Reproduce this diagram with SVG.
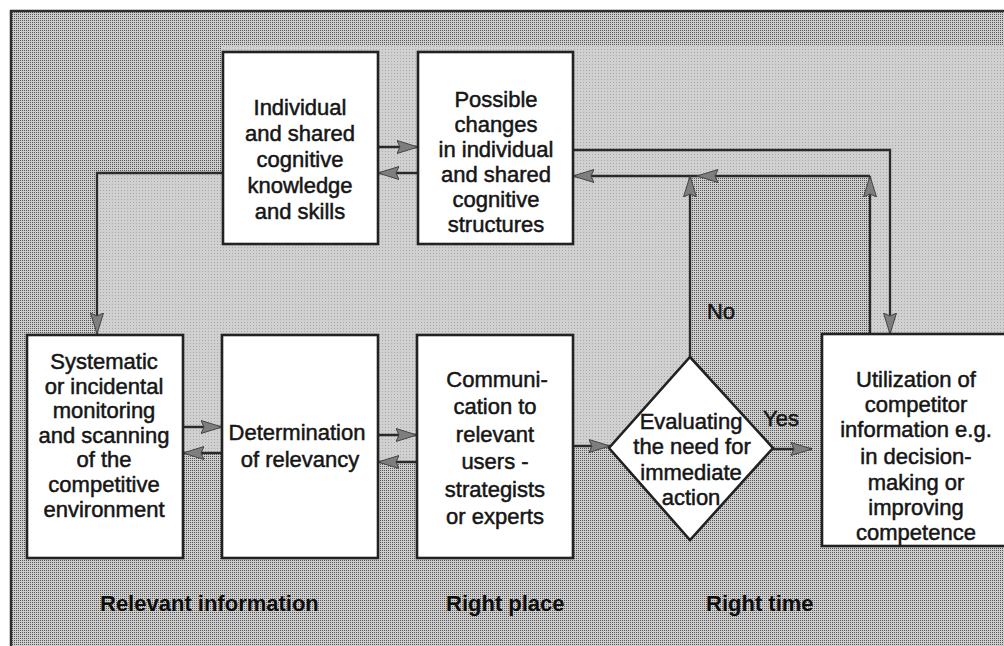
<svg xmlns="http://www.w3.org/2000/svg" width="1004" height="646" viewBox="0 0 1004 646">
  <defs>
    <!-- halftone screen for the outer panel -->
    <pattern id="screen" width="2" height="2" patternUnits="userSpaceOnUse">
      <rect width="2" height="2" fill="#cdcdcd"/>
      <rect width="1" height="1" fill="#555555"/>
    </pattern>
    <!-- finer, lighter screen for the inner band -->
    <pattern id="light" width="3" height="3" patternUnits="userSpaceOnUse">
      <rect width="3" height="3" fill="#d0d0d0"/>
      <rect x="1" y="1" width="1" height="1" fill="#aaaaaa"/>
    </pattern>
    <marker id="arrow" viewBox="0 0 22 14" refX="21" refY="7" markerWidth="22" markerHeight="14" markerUnits="userSpaceOnUse" orient="auto">
      <path d="M0,0.5 L21,7 L0,13.5 L3,7 z" fill="#7e7e7e" stroke="#444444" stroke-width="1"/>
    </marker>
    <style>
      .box { fill: #ffffff; stroke: #222222; stroke-width: 2.6; }
      .wire { fill: none; stroke: #2a2a2a; stroke-width: 2.3; marker-end: url(#arrow); }
      .t { font-family: "Liberation Sans", Arial, sans-serif; font-size: 22px; fill: #161616; stroke: #161616; stroke-width: 0.5; text-anchor: middle; }
      .cap { font-family: "Liberation Sans", Arial, sans-serif; font-size: 22px; font-weight: bold; fill: #0e0e0e; }
    </style>
  </defs>

  <!-- page and frame -->
  <rect width="1004" height="646" fill="#ffffff"/>
  <rect x="11" y="11" width="1010" height="650" fill="url(#screen)"/>
  <path d="M11,660 V11 H1004" fill="none" stroke="#2e2e2e" stroke-width="2.5"/>

  <!-- lighter band enclosed by the feedback loops -->
  <polygon fill="url(#light)" points="222,45 1004,45 1004,334 870,334 870,176 690,176 690,357 611,446 573,446 573,462 378,462 378,453 183,453 183,335 97,335 97,173 222,173"/>

  <!-- connectors -->
  <g id="connectors">
    <path class="wire" d="M378,147 H418"/>
    <path class="wire" d="M418,173 H378"/>
    <path class="wire" d="M573,150 H890 V334"/>
    <path class="wire" d="M870,334 V176"/>
    <path class="wire" d="M870,176 H697"/>
    <path class="wire" d="M697,176 H573"/>
    <path class="wire" d="M690,357 V176"/>
    <path class="wire" d="M222,173 H97 V334"/>
    <path class="wire" d="M183,427 H222"/>
    <path class="wire" d="M222,453 H183"/>
    <path class="wire" d="M378,435 H417"/>
    <path class="wire" d="M417,462 H378"/>
    <path class="wire" d="M573,446 H610"/>
    <path class="wire" d="M773,449 H812"/>
  </g>

  <g id="knowledge">
    <rect class="box" x="223" y="52" width="155" height="192"/>
    <text class="t" x="300" y="115">Individual</text>
    <text class="t" x="300" y="141">and shared</text>
    <text class="t" x="300" y="167">cognitive</text>
    <text class="t" x="300" y="193">knowledge</text>
    <text class="t" x="300" y="219">and skills</text>
  </g>

  <g id="changes">
    <rect class="box" x="418" y="52" width="155" height="192"/>
    <text class="t" x="496" y="107">Possible</text>
    <text class="t" x="496" y="132">changes</text>
    <text class="t" x="496" y="157">in individual</text>
    <text class="t" x="496" y="182">and shared</text>
    <text class="t" x="496" y="207">cognitive</text>
    <text class="t" x="496" y="232">structures</text>
  </g>

  <g id="monitoring">
    <rect class="box" x="27" y="335" width="156" height="223"/>
    <text class="t" x="104" y="369">Systematic</text>
    <text class="t" x="104" y="394">or incidental</text>
    <text class="t" x="104" y="418">monitoring</text>
    <text class="t" x="104" y="443">and scanning</text>
    <text class="t" x="104" y="467">of the</text>
    <text class="t" x="104" y="492">competitive</text>
    <text class="t" x="104" y="517">environment</text>
  </g>

  <g id="relevancy">
    <rect class="box" x="222" y="335" width="156" height="223"/>
    <text class="t" x="297" y="440">Determination</text>
    <text class="t" x="300" y="467">of relevancy</text>
  </g>

  <g id="communication">
    <rect class="box" x="417" y="335" width="156" height="223"/>
    <text class="t" x="497" y="387">Communi-</text>
    <text class="t" x="495" y="414">cation to</text>
    <text class="t" x="495" y="442">relevant</text>
    <text class="t" x="495" y="469">users -</text>
    <text class="t" x="495" y="497">strategists</text>
    <text class="t" x="495" y="524">or experts</text>
  </g>

  <g id="evaluation">
    <polygon class="box" points="690,357 773,448 690,540 609,448"/>
    <text class="t" x="691" y="429">Evaluating</text>
    <text class="t" x="692" y="454">the need for</text>
    <text class="t" x="691" y="480">immediate</text>
    <text class="t" x="691" y="505">action</text>
  </g>

  <g id="utilization">
    <rect class="box" x="822" y="334" width="200" height="212"/>
    <text class="t" x="916" y="387">Utilization of</text>
    <text class="t" x="916" y="412">competitor</text>
    <text class="t" x="916" y="437">information e.g.</text>
    <text class="t" x="916" y="464">in decision-</text>
    <text class="t" x="916" y="490">making or</text>
    <text class="t" x="916" y="515">improving</text>
    <text class="t" x="916" y="540">competence</text>
  </g>

  <!-- decision branch labels -->
  <text class="t" x="721" y="319">No</text>
  <text class="t" x="781" y="426">Yes</text>

  <!-- column captions -->
  <text class="cap" x="100" y="611">Relevant information</text>
  <text class="cap" x="446" y="611">Right place</text>
  <text class="cap" x="706" y="611">Right time</text>
</svg>
